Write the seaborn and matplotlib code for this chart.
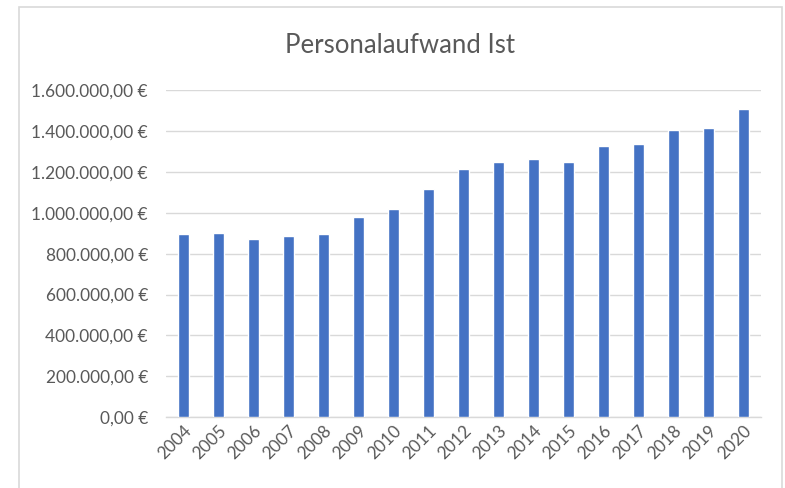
import matplotlib
matplotlib.use("Agg")
import matplotlib.pyplot as plt
from matplotlib.patches import Rectangle
from matplotlib.ticker import FuncFormatter, MultipleLocator
import seaborn as sns
import pandas as pd

years = [str(y) for y in range(2004, 2021)]
aufwand = [896000, 903000, 870000, 887000, 896000, 981000, 1017000, 1118000,
           1213000, 1250000, 1265000, 1250000, 1328000, 1335000, 1406000,
           1416000, 1506000]

sns.set_theme(style="white")
plt.rcParams['font.family'] = ['Lato', 'DejaVu Sans']

fig = plt.figure(figsize=(7.85, 4.88), dpi=100)
ax = fig.add_axes([166 / 785, 1 - 417.3 / 488, (760.7 - 166) / 785, (417.3 - 90) / 488])

df = pd.DataFrame({"Jahr": years, "Aufwand": aufwand})
sns.barplot(data=df, x="Jahr", y="Aufwand", color="#4472C4", saturation=1,
            width=0.31, ax=ax, zorder=3)

ax.set_ylim(0, 1600000)
ax.set_xlim(-0.5, len(years) - 0.5)
ax.yaxis.set_major_locator(MultipleLocator(200000))


def euro(v, pos):
    s = f"{v:,.2f}".replace(",", "X").replace(".", ",").replace("X", ".")
    return s + " €"


ax.yaxis.set_major_formatter(FuncFormatter(euro))
ax.grid(axis="y", color="#D9D9D9", linewidth=1.0, zorder=0)
ax.set_axisbelow(True)
for s in ["top", "right", "left"]:
    ax.spines[s].set_visible(False)
ax.spines["bottom"].set_color("#D9D9D9")
ax.spines["bottom"].set_linewidth(1.0)
ax.set_xlabel("")
ax.set_ylabel("")
ax.tick_params(axis="y", length=0, pad=13, labelsize=12.4, labelcolor="#595959")
ax.tick_params(axis="x", length=0, pad=4, labelsize=12.4, labelcolor="#595959")
plt.setp(ax.get_xticklabels(), rotation=45, ha="right", rotation_mode="anchor")

fig.text(400 / 785, 1 - 46 / 488, "Personalaufwand Ist", ha="center", va="center",
         fontsize=18.5, color="#595959")

fig.patches.append(Rectangle((19 / 785, -0.05), (782 - 19) / 785, 1.05 - 7 / 488,
                             transform=fig.transFigure, fill=False,
                             edgecolor="#D9D9D9", linewidth=1.2))

fig.savefig("out.png", dpi=100)
